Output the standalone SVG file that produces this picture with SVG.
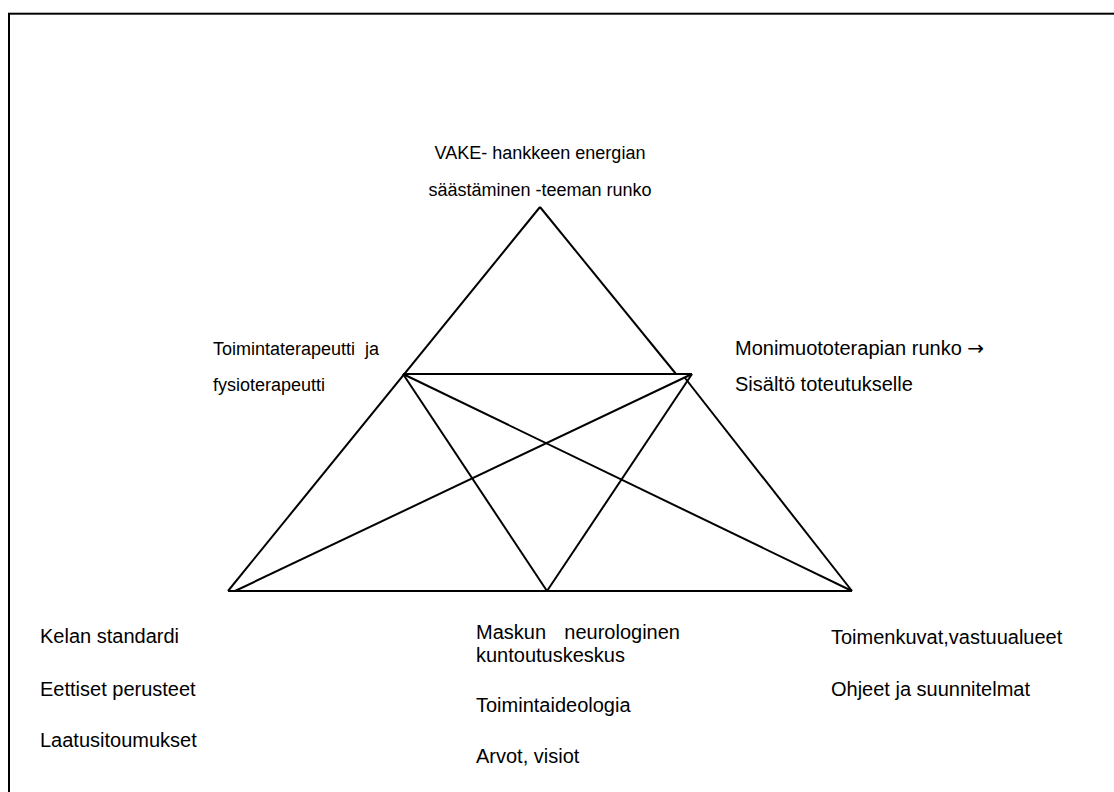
<svg xmlns="http://www.w3.org/2000/svg" width="1114" height="792" viewBox="0 0 1114 792">
<style>
.t{font-family:"Liberation Sans",Arial,sans-serif;font-size:20px;fill:#000}
.t18{font-size:18px}
.ar{font-family:"DejaVu Sans",sans-serif;font-size:20px}
.ln{stroke:#000;stroke-width:2;fill:none;stroke-linecap:butt}
</style>
<rect x="0" y="0" width="1114" height="792" fill="#fff"/>
<rect id="frame" x="9" y="13.7" width="1200" height="1000" fill="none" stroke="#000" stroke-width="2"/>
<g id="connectors">
<line class="ln" x1="540" y1="207" x2="228" y2="591"/>
<line class="ln" x1="540" y1="207" x2="676" y2="374"/>
<line class="ln" x1="685" y1="378" x2="852" y2="591"/>
<line class="ln" x1="403" y1="374" x2="692" y2="374"/>
<line class="ln" x1="403" y1="374" x2="547" y2="591"/>
<line class="ln" x1="403" y1="374" x2="852" y2="591"/>
<line class="ln" x1="692" y1="374" x2="235" y2="591"/>
<line class="ln" x1="692" y1="374" x2="547" y2="591"/>
<line class="ln" x1="228" y1="591" x2="852" y2="591"/>
</g>
<g id="node-top">
<text class="t t18" x="540" y="159" text-anchor="middle">VAKE- hankkeen energian</text>
<text class="t t18" x="540" y="196" text-anchor="middle">säästäminen -teeman runko</text>
</g>
<g id="node-left">
<text class="t t18" x="213" y="355" xml:space="preserve">Toimintaterapeutti  ja</text>
<text class="t t18" x="213" y="391">fysioterapeutti</text>
</g>
<g id="node-right">
<text class="t" x="735" y="355">Monimuototerapian runko <tspan class="ar">→</tspan></text>
<text class="t" x="735" y="391">Sisältö toteutukselle</text>
</g>
<g id="node-bottom-left">
<text class="t" x="40" y="643">Kelan standardi</text>
<text class="t" x="40" y="696">Eettiset perusteet</text>
<text class="t" x="40" y="747">Laatusitoumukset</text>
</g>
<g id="node-bottom-middle">
<text class="t"><tspan x="476" y="639">Maskun</tspan><tspan x="680" y="639" text-anchor="end"> neurologinen</tspan></text>
<text class="t" x="476" y="662">kuntoutuskeskus</text>
<text class="t" x="476" y="712">Toimintaideologia</text>
<text class="t" x="476" y="763">Arvot, visiot</text>
</g>
<g id="node-bottom-right">
<text class="t" x="831" y="644">Toimenkuvat,vastuualueet</text>
<text class="t" x="831" y="696">Ohjeet ja suunnitelmat</text>
</g>
</svg>
